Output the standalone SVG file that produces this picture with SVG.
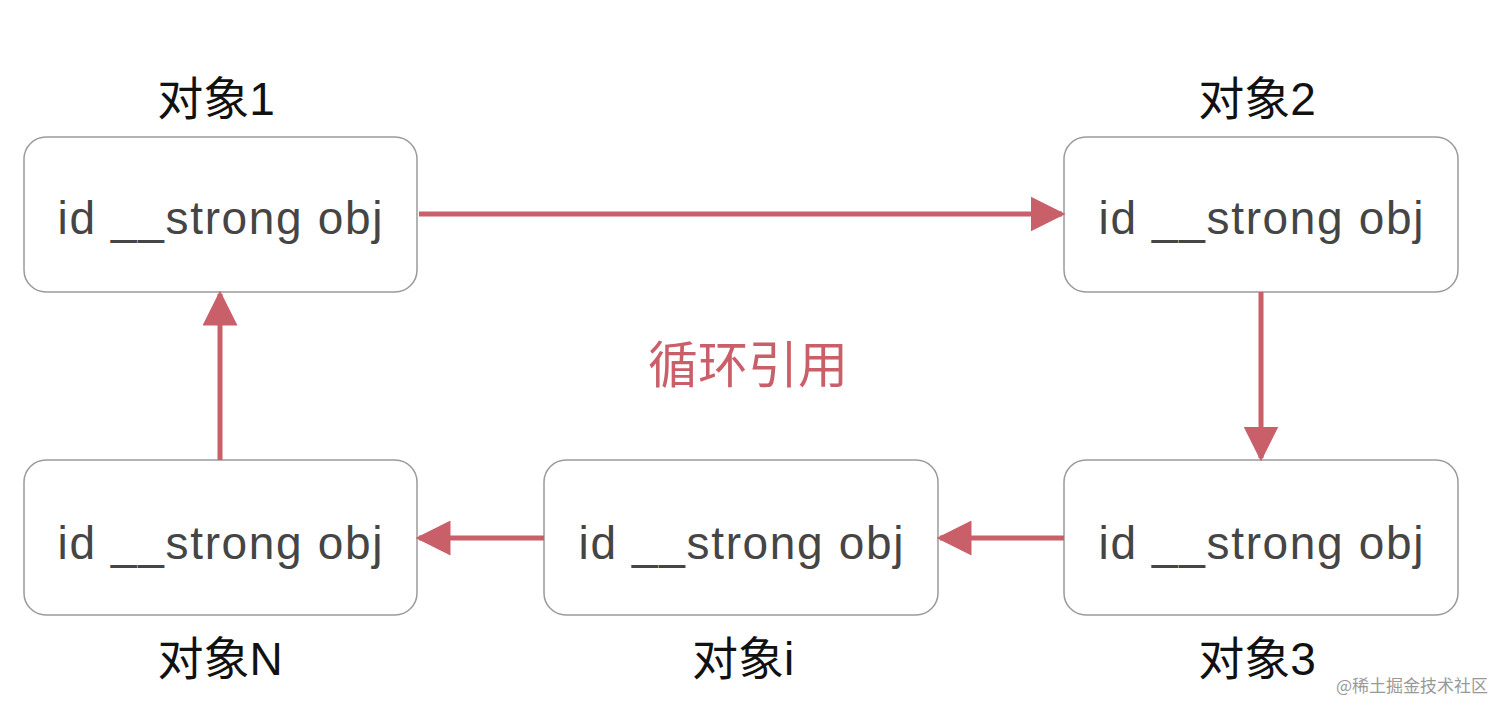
<svg xmlns="http://www.w3.org/2000/svg" width="1512" height="715" viewBox="0 0 1512 715">
<style>
.box{fill:#fff;stroke:#9a9a9a;stroke-width:1.5}
.t{font-family:"Liberation Sans",Arial,sans-serif;font-size:46px;fill:#454545;text-anchor:middle}
.lb{font-family:"Liberation Sans","Noto Sans CJK SC",sans-serif;font-size:46px;fill:#111;text-anchor:middle}
.c{stroke:#c95f69;stroke-width:5;fill:none}
</style>
<defs><marker id="a" viewBox="0 0 10 10" refX="9" refY="5" markerWidth="7" markerHeight="7" markerUnits="strokeWidth" orient="auto"><path d="M0,0L10,5L0,10z" fill="#c95f69"/></marker></defs>
<rect width="1512" height="715" fill="#fff"/>
<g id="n1"><rect class="box" x="24" y="137" width="393" height="155" rx="22"/><text class="t" x="220" y="234" textLength="325">id __strong obj</text><text class="lb" x="216" y="115">对象1</text></g>
<g id="n2"><rect class="box" x="1064" y="137" width="394" height="155" rx="22"/><text class="t" x="1261" y="234" textLength="325">id __strong obj</text><text class="lb" x="1257" y="115">对象2</text></g>
<g id="n3"><rect class="box" x="1064" y="460" width="394" height="155" rx="22"/><text class="t" x="1261" y="559" textLength="325">id __strong obj</text><text class="lb" x="1257" y="675">对象3</text></g>
<g id="ni"><rect class="box" x="544" y="460" width="394" height="155" rx="22"/><text class="t" x="741" y="559" textLength="325">id __strong obj</text><text class="lb" x="743" y="675">对象i</text></g>
<g id="nN"><rect class="box" x="24" y="460" width="393" height="155" rx="22"/><text class="t" x="220" y="559" textLength="325">id __strong obj</text><text class="lb" x="220" y="675">对象N</text></g>
<g id="connectors">
<line class="c" x1="419" y1="214" x2="1062" y2="214" marker-end="url(#a)"/>
<line class="c" x1="1261" y1="292" x2="1261" y2="458" marker-end="url(#a)"/>
<line class="c" x1="1064" y1="538" x2="940" y2="538" marker-end="url(#a)"/>
<line class="c" x1="544" y1="538" x2="419" y2="538" marker-end="url(#a)"/>
<line class="c" x1="220" y1="460" x2="220" y2="294" marker-end="url(#a)"/>
</g>
<text x="748" y="383" font-family="Noto Sans CJK SC,sans-serif" font-size="50" fill="#c95f69" text-anchor="middle">循环引用</text>
<text x="1412" y="692" font-family="Noto Sans CJK SC,sans-serif" font-size="17" fill="#999" text-anchor="middle">@稀土掘金技术社区</text>
</svg>
